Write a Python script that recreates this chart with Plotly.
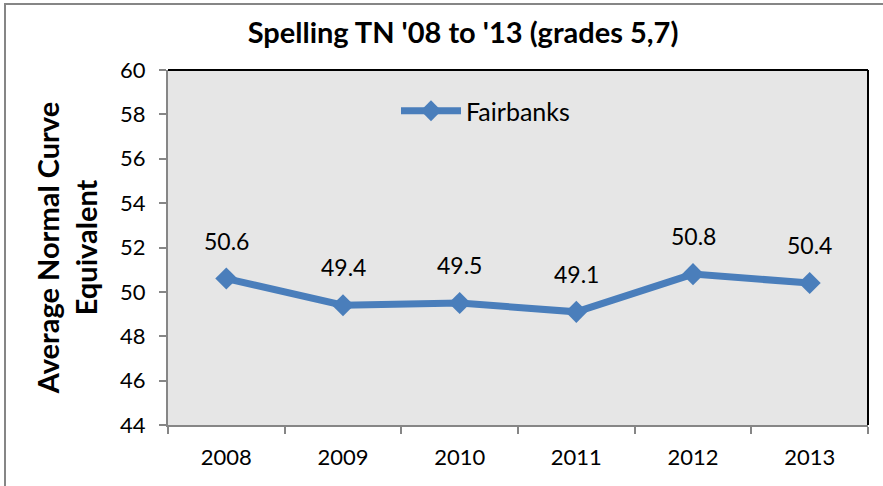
import plotly.graph_objects as go

years = ["2008", "2009", "2010", "2011", "2012", "2013"]
fairbanks = [50.6, 49.4, 49.5, 49.1, 50.8, 50.4]
y_ticks = [44, 46, 48, 50, 52, 54, 56, 58, 60]

W, H = 883, 486
L, R, T, B = 168, 15, 70, 61
pw = W - L - R
ph = H - T - B

FONT = "Lato"
BLUE = "#4A7EBB"

fig = go.Figure()
fig.add_trace(go.Scatter(
    x=years, y=fairbanks, name="Fairbanks",
    mode="lines+markers",
    line=dict(color=BLUE, width=7),
    marker=dict(symbol="diamond", size=17, color=BLUE),
    cliponaxis=False,
))

for i, v in enumerate(fairbanks):
    fig.add_annotation(x=i, y=v, xref="x", yref="y", text=f"{v:.1f}",
                       showarrow=False, yshift=38,
                       font=dict(family=FONT, size=23, color="#000000"))

def px_x(p):
    return (p - L) / pw

def px_y(p):
    return (H - B - p) / ph

fig.update_layout(
    width=W, height=H,
    margin=dict(l=L, r=R, t=T, b=B, autoexpand=False),
    paper_bgcolor="white",
    plot_bgcolor="#E6E6E6",
    title=dict(text="<b>Spelling TN '08 to '13 (grades 5,7)</b>",
               x=463 / W, xanchor="center", xref="container",
               y=1 - 33 / H, yanchor="middle", yref="container",
               font=dict(family=FONT, size=29, color="#000000")),
    showlegend=True,
    legend=dict(x=px_x(396), y=px_y(111), xanchor="left", yanchor="middle",
                bgcolor="rgba(0,0,0,0)",
                font=dict(family=FONT, size=25, color="#000000"),
                itemwidth=60),
    xaxis=dict(type="category", range=[-0.5, 5.5], automargin=False,
               showgrid=False, zeroline=False,
               showline=True, linecolor="#868686", linewidth=2,
               ticks="outside", tickson="boundaries", ticklen=7,
               tickcolor="#868686", tickwidth=2,
               ticklabelstandoff=12,
               tickfont=dict(family=FONT, size=22, color="#000000")),
    yaxis=dict(range=[44, 60], tickvals=y_ticks, automargin=False,
               showgrid=False, zeroline=False,
               showline=True, linecolor="#868686", linewidth=2,
               ticks="outside", ticklen=7, tickcolor="#868686", tickwidth=2,
               ticklabelstandoff=9,
               tickfont=dict(family=FONT, size=22, color="#000000"),
               title=dict(text="<b>Average Normal Curve<br>Equivalent</b>",
                          font=dict(family=FONT, size=29, color="#000000"),
                          standoff=14)),
    shapes=[
        dict(type="line", xref="paper", yref="paper", x0=0, x1=1, y0=1, y1=1,
             line=dict(color="#000000", width=2)),
        dict(type="line", xref="paper", yref="paper", x0=1, x1=1, y0=0, y1=1,
             line=dict(color="#000000", width=2)),
        dict(type="rect", xref="paper", yref="paper",
             x0=px_x(5), x1=px_x(900), y0=px_y(500), y1=px_y(4),
             line=dict(color="#868686", width=2), layer="below"),
    ],
)

fig.write_html("out.html", config={"displayModeBar": False},
               post_script="document.body.style.margin='0';document.body.style.overflow='hidden';")
